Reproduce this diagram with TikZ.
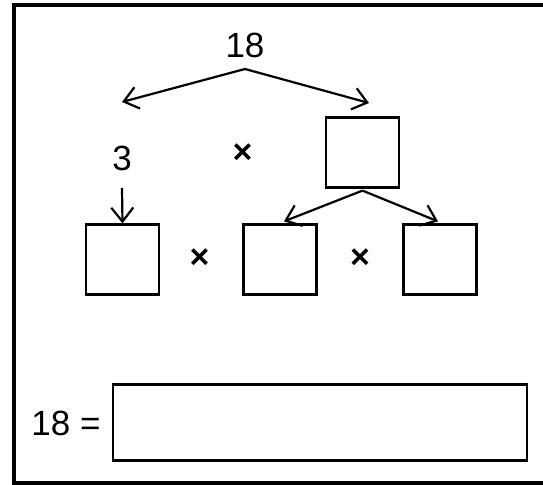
\documentclass[tikz,border=0pt]{standalone}
\usepackage{fontspec}
\setmainfont{Liberation Sans}
\usepackage{tikz}
\usetikzlibrary{arrows.meta,calc,positioning}
\tikzset{
  cell/.style = {draw, line width=1.1pt, minimum width=36.5pt, minimum height=35pt, inner sep=0pt},
  arr/.style = {line width=1.1pt, -{Straight Barb[length=7pt,width=11pt]}},
  num/.style = {font=\fontsize{17.5pt}{21pt}\selectfont, inner sep=0pt},
  op/.style = {font=\fontsize{17pt}{21pt}\selectfont\bfseries, inner sep=0pt},
}
\begin{document}
\begin{tikzpicture}[x=0.5pt,y=-0.5pt]
\useasboundingbox (0,0) rectangle (543,485);
\draw[line width=2pt] (600,5) -- (14,5) -- (14,483.5) -- (600,483.5);
%
% top split of 18
\node[num] (top) at (245,45) {18};
\coordinate (split) at (245,69);
\coordinate (lefttip) at (122,102);
\coordinate (righttip) at (369,103);
\draw[arr] (split) -- (lefttip);
\draw[arr] (split) -- (righttip);
%
\node[num] (three) at (122,158) {3};
\node[op] (times1) at (242.5,154) {×};
\node[cell] (six) at (362.5,152.5) {};
%
% second row
\node[cell] (b1) at (122.5,259.5) {};
\node[cell] (b2) at (280,259.5) {};
\node[cell] (b3) at (440,259.5) {};
\node[op] (times2) at (199.5,259) {×};
\node[op] (times3) at (360,259) {×};
\draw[arr] ($(three.south)+(0,17)$) -- (b1.north);
\draw[arr] ($(six.south)+(0,2)$) -- ($(b2.north)+(4,-2)$);
\draw[arr] ($(six.south)+(0,2)$) -- ($(b3.north)+(-2,-2)$);
%
% answer line
\node[num] (eq) at (66,423) {18 =};
\node[cell, minimum width=207pt, minimum height=38pt] (answer) at (320,422.5) {};
%
\end{tikzpicture}
\end{document}
